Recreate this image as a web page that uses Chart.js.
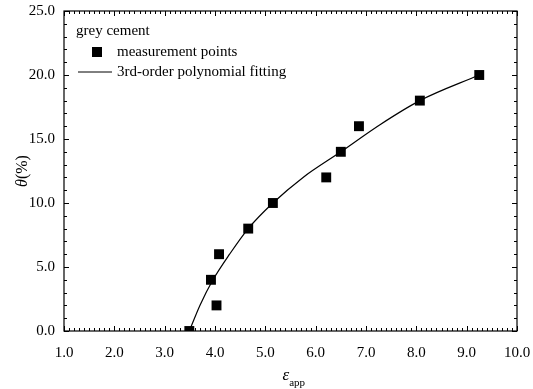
<!DOCTYPE html>
<html>
<head>
<meta charset="utf-8">
<script src="https://cdn.jsdelivr.net/npm/chart.js@4"></script>
<style>
  html, body { margin: 0; padding: 0; background: #fff; }
  #wrap { width: 533px; height: 389px; }
</style>
</head>
<body>
<div id="wrap"><canvas id="c" width="533" height="389"></canvas></div>
<script>
const measX = [3.49, 4.03, 3.92, 4.08, 4.66, 5.15, 6.21, 6.50, 6.86, 8.07, 9.25];
const measY = [0, 2, 4, 6, 8, 10, 12, 14, 16, 18, 20];
// fitted curve, sampled along the drawn line
const fitX = [3.49, 3.70, 3.96, 4.29, 4.66, 5.15, 5.75, 6.50, 7.27, 8.07, 9.25];
const fitY = [0, 2.0, 4.0, 6.0, 8.0, 10.0, 12.0, 14.0, 16.1, 18.0, 20.0];

const legendTitle = 'grey cement';
const legendLabels = ['measurement points', '3rd-order polynomial fitting'];

const FONT = '"Liberation Serif", "Times New Roman", serif';

const decor = {
  id: 'decor',
  afterDraw(chart) {
    const { ctx, chartArea: a, scales } = chart;
    const xs = scales.x, ys = scales.y;
    ctx.save();
    ctx.strokeStyle = '#000';
    ctx.lineWidth = 1.2;
    ctx.strokeRect(a.left, a.top, a.right - a.left, a.bottom - a.top);

    // inward ticks on all four sides
    ctx.lineWidth = 1;
    ctx.beginPath();
    for (let i = 0; i <= 90; i++) {
      const v = 1 + i / 10;
      const px = Math.round(xs.getPixelForValue(v)) + 0.5;
      const len = i % 10 === 0 ? 5 : 3;
      ctx.moveTo(px, a.bottom); ctx.lineTo(px, a.bottom - len);
      ctx.moveTo(px, a.top); ctx.lineTo(px, a.top + len);
    }
    for (let v = 0; v <= 25; v++) {
      const py = Math.round(ys.getPixelForValue(v)) + 0.5;
      const len = v % 5 === 0 ? 5 : 3;
      ctx.moveTo(a.left, py); ctx.lineTo(a.left + len, py);
      ctx.moveTo(a.right, py); ctx.lineTo(a.right - len, py);
    }
    ctx.stroke();

    // axis titles
    ctx.fillStyle = '#000';
    ctx.textBaseline = 'alphabetic';
    ctx.font = 'italic 17px ' + FONT;
    const cx = (a.left + a.right) / 2;
    ctx.textAlign = 'left';
    const ew = ctx.measureText('ε').width;
    ctx.fillText('ε', cx - 8, 380);
    ctx.font = '11px ' + FONT;
    ctx.fillText('app', cx - 8 + ew, 386);

    ctx.save();
    ctx.translate(27, (a.top + a.bottom) / 2);
    ctx.rotate(-Math.PI / 2);
    ctx.font = 'italic 16px ' + FONT;
    const tw = ctx.measureText('θ').width;
    ctx.font = '16px ' + FONT;
    const pw = ctx.measureText('(%)').width;
    const start = -(tw + pw) / 2;
    ctx.font = 'italic 16px ' + FONT;
    ctx.fillText('θ', start, 0);
    ctx.font = '16px ' + FONT;
    ctx.fillText('(%)', start + tw, 0);
    ctx.restore();

    // legend
    ctx.font = '15px ' + FONT;
    ctx.textBaseline = 'middle';
    ctx.fillText(legendTitle, a.left + 12, a.top + 20);
    ctx.fillRect(a.left + 28, a.top + 36, 10, 10);
    ctx.fillText(legendLabels[0], a.left + 53, a.top + 41);
    ctx.beginPath();
    ctx.moveTo(a.left + 14, a.top + 61);
    ctx.lineTo(a.left + 48, a.top + 61);
    ctx.stroke();
    ctx.fillText(legendLabels[1], a.left + 53, a.top + 61);
    ctx.restore();
  }
};

new Chart(document.getElementById('c'), {
  type: 'scatter',
  data: {
    datasets: [
      {
        label: legendLabels[0],
        data: measX.map((x, i) => ({ x, y: measY[i] })),
        pointStyle: 'rect',
        pointRadius: 7,
        backgroundColor: '#000',
        borderColor: '#000',
        borderWidth: 0,
        order: 1
      },
      {
        label: legendLabels[1],
        data: fitX.map((x, i) => ({ x, y: fitY[i] })),
        showLine: true,
        pointRadius: 0,
        borderColor: '#000',
        borderWidth: 1.2,
        cubicInterpolationMode: 'monotone',
        order: 2
      }
    ]
  },
  options: {
    responsive: false,
    animation: false,
    layout: { padding: { top: 11, right: 16, left: 0, bottom: 0 } },
    plugins: { legend: { display: false }, tooltip: { enabled: false } },
    scales: {
      x: {
        type: 'linear',
        min: 1, max: 10,
        afterFit: s => { s.height = 58; s.paddingLeft = 0; s.paddingRight = 0; },
        grid: { display: false, drawTicks: false },
        border: { display: false },
        ticks: {
          stepSize: 1,
          padding: 13,
          color: '#000',
          font: { family: FONT, size: 15 },
          callback: v => v.toFixed(1)
        }
      },
      y: {
        min: 0, max: 25,
        afterFit: s => { s.width = 64; s.paddingTop = 0; s.paddingBottom = 0; },
        grid: { display: false, drawTicks: false },
        border: { display: false },
        ticks: {
          stepSize: 5,
          padding: 9,
          color: '#000',
          font: { family: FONT, size: 15 },
          callback: v => v.toFixed(1)
        }
      }
    }
  },
  plugins: [decor]
});
</script>
</body>
</html>
